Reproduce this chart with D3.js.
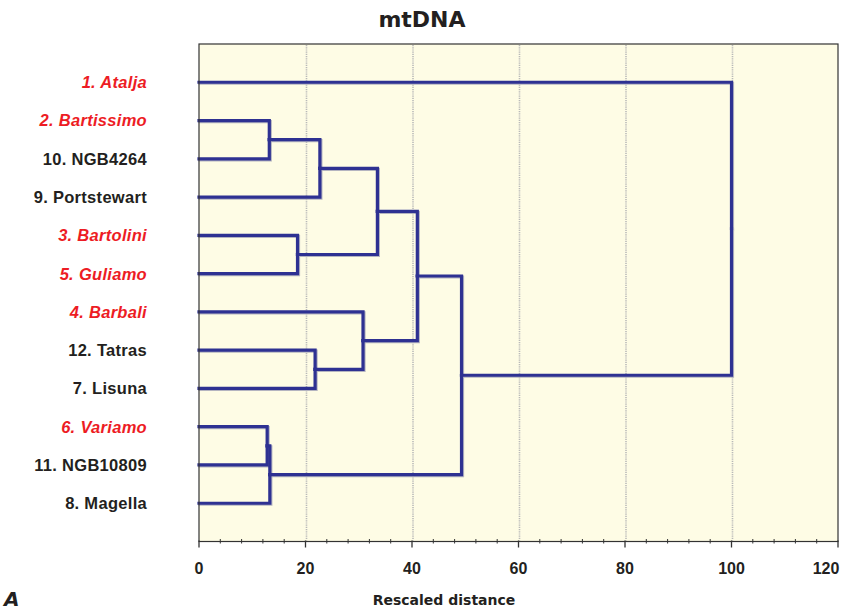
<!DOCTYPE html>
<html>
<head>
<meta charset="utf-8">
<script src="https://cdn.jsdelivr.net/npm/d3@7"></script>
<style>
  html, body { margin: 0; padding: 0; background: #fff; }
  svg { display: block; }
</style>
</head>
<body>
<div id="chart"></div>
<script>
// Leaves in dendrogram order (top to bottom)
const leafLabels = [
  "1. Atalja", "2. Bartissimo", "10. NGB4264", "9. Portstewart",
  "3. Bartolini", "5. Guliamo", "4. Barbali", "12. Tatras",
  "7. Lisuna", "6. Variamo", "11. NGB10809", "8. Magella"
];
// Leaves printed in red italics
const highlighted = ["1. Atalja", "2. Bartissimo", "3. Bartolini", "5. Guliamo", "4. Barbali", "6. Variamo"];

// Agglomeration steps: [left cluster, right cluster, rescaled distance]
// Cluster references are leaf labels or "m<k>" for the k-th merge
const mergeA = ["2. Bartissimo", "6. Variamo", "m1", "3. Bartolini", "12. Tatras", "4. Barbali", "m3", "m6", "m2", "m8", "1. Atalja"];
const mergeB = ["10. NGB4264", "11. NGB10809", "9. Portstewart", "5. Guliamo", "7. Lisuna", "m5", "m4", "m7", "8. Magella", "m9", "m10"];
const mergeDist = [13.2, 12.8, 22.7, 18.5, 21.8, 30.8, 33.5, 41.0, 13.3, 49.3, 100.0];
const xTicks = [0, 20, 40, 60, 80, 100, 120];

const W = 841, H = 612;
const plot = { left: 199, right: 838, top: 44, bottom: 541.5 };

const svg = d3.select("#chart").append("svg").attr("width", W).attr("height", H);

const x = d3.scaleLinear().domain([0, 120]).range([plot.left, plot.right]);
const y = d3.scalePoint().domain(leafLabels).range([plot.top, plot.bottom]).padding(1);

// Build the tree from the merge list
const nodes = {};
leafLabels.forEach(l => nodes[l] = { name: l, dist: 0 });
mergeA.forEach((a, i) => {
  nodes["m" + (i + 1)] = { name: "m" + (i + 1), dist: mergeDist[i], children: [nodes[a], nodes[mergeB[i]]] };
});
const root = d3.hierarchy(nodes["m" + mergeA.length]);
root.eachAfter(d => {
  d.px = x(d.data.dist);
  d.py = d.children ? d3.mean(d.children, c => c.py) : y(d.data.name);
});

// Plot background
svg.append("rect")
  .attr("x", plot.left).attr("y", plot.top)
  .attr("width", plot.right - plot.left).attr("height", plot.bottom - plot.top)
  .attr("fill", "#fefce5");

// Dotted gridlines
svg.append("g").selectAll("line")
  .data(xTicks.filter(t => t > 0 && t < 120))
  .join("line")
  .attr("x1", d => x(d) + 1).attr("x2", d => x(d) + 1)
  .attr("y1", plot.top + 1).attr("y2", plot.bottom - 1)
  .attr("stroke", "#b8b8b8").attr("stroke-width", 1.6)
  .attr("stroke-dasharray", "1.2,1");

// Links (elbow connectors), with a soft grey shadow underneath
const linkPath = d => `M${d.source.px},${d.source.py}V${d.target.py}H${d.target.px}`;
const links = root.links();
svg.append("g").attr("transform", "translate(1,1)")
  .selectAll("path").data(links).join("path")
  .attr("d", linkPath)
  .attr("fill", "none").attr("stroke", "#b4b4c0").attr("stroke-width", 3.2)
  .attr("stroke-linecap", "square");
svg.append("g")
  .selectAll("path").data(links).join("path")
  .attr("d", linkPath)
  .attr("fill", "none").attr("stroke", "#2e3192").attr("stroke-width", 3.2)
  .attr("stroke-linecap", "square");

// Frame
svg.append("rect")
  .attr("x", plot.left).attr("y", plot.top)
  .attr("width", plot.right - plot.left).attr("height", plot.bottom - plot.top)
  .attr("fill", "none").attr("stroke", "#333").attr("stroke-width", 1.2);

// X axis: major ticks with labels, minor ticks every 4 units
const axisG = svg.append("g").attr("transform", `translate(0,${plot.bottom})`);
axisG.selectAll("line.minor").data(d3.range(0, 121, 4).filter(v => v % 20 !== 0))
  .join("line").attr("class", "minor")
  .attr("x1", d => x(d)).attr("x2", d => x(d))
  .attr("y1", -2.5).attr("y2", 2)
  .attr("stroke", "#333").attr("stroke-width", 1);
axisG.selectAll("line.major").data(xTicks)
  .join("line").attr("class", "major")
  .attr("x1", d => x(d)).attr("x2", d => x(d))
  .attr("y1", -1).attr("y2", 6)
  .attr("stroke", "#333").attr("stroke-width", 1.3);
axisG.selectAll("text").data(xTicks)
  .join("text")
  .attr("x", d => x(d) - (d === 120 ? 12 : 0)).attr("y", 32)
  .attr("text-anchor", "middle")
  .attr("font-family", "Liberation Sans, Arial, sans-serif")
  .attr("font-weight", "bold").attr("font-size", 16)
  .attr("fill", "#231f20")
  .text(d => d);

// Leaf labels
svg.append("g").selectAll("text").data(leafLabels)
  .join("text")
  .attr("x", 147).attr("y", d => y(d))
  .attr("dy", "0.36em")
  .attr("text-anchor", "end")
  .attr("font-family", "Liberation Sans, Arial, sans-serif")
  .attr("font-weight", "bold").attr("font-size", 16.5)
  .attr("letter-spacing", 0.3)
  .attr("font-style", d => highlighted.includes(d) ? "italic" : "normal")
  .attr("fill", d => highlighted.includes(d) ? "#ed1c24" : "#231f20")
  .text(d => d);

// Title and axis caption
svg.append("text").attr("x", 422).attr("y", 27)
  .attr("text-anchor", "middle")
  .attr("font-family", "DejaVu Sans, sans-serif")
  .attr("font-weight", "bold").attr("font-size", 22)
  .attr("fill", "#231f20").text("mtDNA");
svg.append("text").attr("x", 444).attr("y", 605)
  .attr("text-anchor", "middle")
  .attr("font-family", "DejaVu Sans, sans-serif")
  .attr("font-weight", "bold").attr("font-size", 14)
  .attr("fill", "#231f20").text("Rescaled distance");
svg.append("text").attr("x", 4).attr("y", 606)
  .attr("font-family", "DejaVu Sans, sans-serif")
  .attr("font-style", "italic").attr("font-weight", "bold").attr("font-size", 20)
  .attr("fill", "#231f20").text("A");
</script>
</body>
</html>
